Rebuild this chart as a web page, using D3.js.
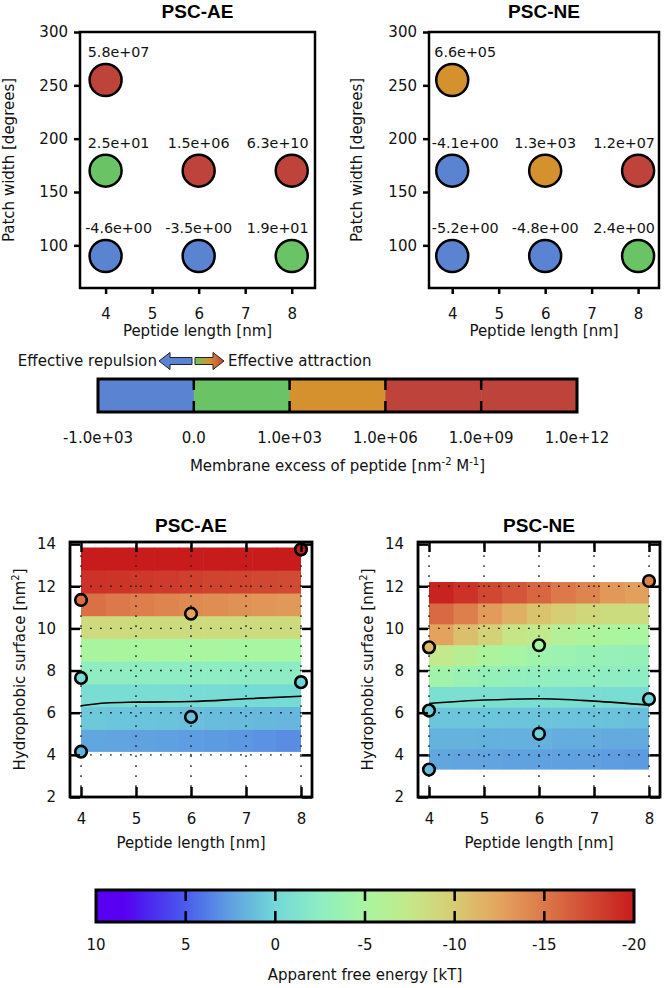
<!DOCTYPE html>
<html><head><meta charset="utf-8">
<script src="https://cdn.jsdelivr.net/npm/d3@7"></script>
<style>
html,body{margin:0;padding:0;background:#fff;}
svg{display:block;font-family:"DejaVu Sans",sans-serif;}
</style>
</head><body><div id="chart"></div>
<script>
// ---------- DATA ----------
const panelTitles = ["PSC-AE", "PSC-NE"];
// Top: membrane excess scatter
const aeLength = [4, 4, 6, 8, 4, 6, 8];
const aeWidth  = [255, 170, 170, 170, 90, 90, 90];
const aeExcess = [5.8e7, 2.5e1, 1.5e6, 6.3e10, -4.6, -3.5, 1.9e1];
const neLength = [4, 4, 6, 8, 4, 6, 8];
const neWidth  = [255, 170, 170, 170, 90, 90, 90];
const neExcess = [6.6e5, -4.1, 1.3e3, 1.2e7, -5.2, -4.8, 2.4];
const widthTicks = [100, 150, 200, 250, 300];
const lengthTicks = [4, 5, 6, 7, 8];
const excessBounds = [-1e3, 0, 1e3, 1e6, 1e9, 1e12];
const excessTickLabels = ["-1.0e+03", "0.0", "1.0e+03", "1.0e+06", "1.0e+09", "1.0e+12"];

// Bottom: apparent free energy maps (rows bottom->top, columns 4..8 nm)
const aeSurfaceRange = [4.14, 13.84];
const aeEnergyGrid = [
  [2.2, 2.3, 2.4, 2.5, 2.6, 2.7, 2.8, 3.0, 3.2],
  [0.7, 0.8, 0.9, 1.0, 1.1, 1.2, 1.3, 1.4, 1.5],
  [-0.6, -0.6, -0.6, -0.6, -0.5, -0.5, -0.4, -0.4, -0.3],
  [-2.6, -2.6, -2.6, -2.5, -2.5, -2.5, -2.4, -2.4, -2.4],
  [-5.1, -5.1, -5.0, -5.0, -5.0, -5.0, -4.9, -4.9, -4.9],
  [-8.7, -8.7, -8.6, -8.6, -8.6, -8.6, -8.6, -8.6, -8.6],
  [-15.4, -15.0, -14.6, -14.3, -14.0, -13.8, -13.6, -13.3, -13.1],
  [-18.8, -18.7, -18.5, -18.3, -18.1, -17.9, -17.8, -17.6, -17.5],
  [-20, -20, -20, -20, -20, -20, -20, -20, -20]
];
const aePointLength  = [4, 4, 4, 6, 6, 8, 8];
const aePointSurface = [11.35, 7.65, 4.15, 10.7, 5.8, 13.75, 7.45];
const aePointEnergy  = [-15.5, -0.5, 1.8, -12.5, 1.0, -20, 0.2];
const aeContourLength  = [4, 4.45, 5, 6, 7, 8];
const aeContourSurface = [6.33, 6.46, 6.5, 6.53, 6.66, 6.78];

const neSurfaceRange = [3.3, 12.2];
const neEnergyGrid = [
  [2.2, 2.3, 2.3, 2.4, 2.4, 2.5, 2.5, 2.6, 2.7],
  [1.7, 1.7, 1.8, 1.8, 1.8, 1.9, 1.9, 2.0, 2.0],
  [0.8, 0.8, 0.8, 0.9, 0.9, 0.9, 1.0, 1.0, 1.1],
  [-0.8, -0.8, -0.8, -0.7, -0.7, -0.7, -0.6, -0.6, -0.6],
  [-4.3, -3.6, -3.2, -3.0, -2.9, -2.8, -2.7, -2.6, -2.5],
  [-7.3, -6.4, -5.3, -4.8, -4.2, -3.8, -3.5, -3.3, -3.2],
  [-12.6, -10.8, -9.4, -7.8, -7.2, -6.0, -5.5, -5.2, -5.0],
  [-15.8, -14.6, -13.0, -11.7, -10.6, -9.7, -9.0, -8.6, -8.6],
  [-19.6, -18.8, -17.6, -16.9, -15.9, -15.0, -14.3, -13.2, -12.7]
];
const nePointLength  = [4, 4, 4, 6, 6, 8, 8];
const nePointSurface = [9.1, 6.1, 3.3, 9.2, 5.0, 12.25, 6.65];
const nePointEnergy  = [-11, 0.5, 1.3, -5, 0.2, -14.5, 0];
const neContourLength  = [4, 5, 6, 7, 8];
const neContourSurface = [6.44, 6.6, 6.66, 6.55, 6.36];

const surfaceTicks = [2, 4, 6, 8, 10, 12, 14];
const energyTicks = [10, 5, 0, -5, -10, -15, -20];

// ---------- STYLE ----------
const W = 664, H = 988;
const FONT = 15;
const excessColors = ["#5a84d2", "#6ac466", "#d4912d", "#be433a", "#be433a"];
const energyStops = [10, 8.3, 7.5, 5, 2.5, 0, -2.5, -5, -7.5, -10, -12.5, -15, -17.5, -20];
const energyStopColors = ["#5800f2", "#5800f2", "#4c1cf0", "#4a5cee", "#5fa0e0", "#72d8d8", "#8eedc2",
  "#a8f6a0", "#c4e889", "#d8cb72", "#e3a45e", "#dc7849", "#d14a33", "#c81c1c"];
const energyColor = d3.scaleLinear().domain(energyStops).range(energyStopColors).clamp(true);
const excessColor = d3.scaleThreshold().domain([0, 1e3, 1e6]).range(excessColors.slice(0, 4));
// horizontal shift of value labels relative to circle (by column)
const annShift = d3.scaleOrdinal().domain([4, 6, 8]).range([13, 0, -14]);

const svg = d3.select("#chart").append("svg").attr("width", W).attr("height", H)
  .attr("viewBox", `0 0 ${W} ${H}`);
svg.append("rect").attr("width", W).attr("height", H).attr("fill", "#fff");

function fmtExp(v) {
  const [m, e] = v.toExponential(1).split("e");
  return m + "e" + e[0] + e.slice(1).padStart(2, "0");
}
const intFmt = d3.format("d");

function styleAxis(g) {
  g.select(".domain").remove();
  g.selectAll(".tick line").attr("stroke", "#000").attr("stroke-width", 2.5);
  g.selectAll(".tick text").attr("fill", "#111").attr("font-size", FONT)
    .attr("font-family", "DejaVu Sans");
}

// ---------- TOP PANELS ----------
function drawExcess(cfg) {
  const x = d3.scaleLinear().domain(cfg.xd).range([cfg.x0, cfg.x1]);
  const y = d3.scaleLinear().domain([60, 300]).range([288, 32]);
  const g = svg.append("g");
  g.append("text").attr("x", (cfg.x0 + cfg.x1) / 2).attr("y", 18).attr("text-anchor", "middle")
    .attr("font-family", "Liberation Sans, Arial, sans-serif").attr("font-weight", "bold")
    .attr("font-size", 19).text(cfg.title);
  const gy = g.append("g").attr("transform", `translate(${cfg.x0},0)`)
    .call(d3.axisLeft(y).tickValues(widthTicks).tickFormat(intFmt).tickSize(6).tickPadding(6));
  styleAxis(gy);
  const gx = g.append("g").attr("transform", `translate(0,288)`)
    .call(d3.axisBottom(x).tickValues(lengthTicks).tickFormat(intFmt).tickSize(6).tickPadding(14));
  styleAxis(gx);
  const pts = cfg.lengths.map((l, i) => ({ l, w: cfg.widths[i], v: cfg.values[i] }));
  g.selectAll("circle.pt").data(pts).join("circle")
    .attr("cx", d => x(d.l)).attr("cy", d => y(d.w)).attr("r", 16)
    .attr("fill", d => excessColor(d.v)).attr("stroke", "#000").attr("stroke-width", 2.5);
  g.selectAll("text.ann").data(pts).join("text")
    .attr("x", d => x(d.l) + annShift(d.l)).attr("y", d => y(d.w) - 23).attr("text-anchor", "middle")
    .attr("font-size", 14.3).attr("fill", "#111").text(d => fmtExp(d.v));
  g.append("rect").attr("x", cfg.x0).attr("y", 32).attr("width", cfg.x1 - cfg.x0).attr("height", 256)
    .attr("fill", "none").attr("stroke", "#000").attr("stroke-width", 2.5);
  g.append("text").attr("x", (cfg.x0 + cfg.x1) / 2).attr("y", 336).attr("text-anchor", "middle")
    .attr("font-size", FONT).attr("fill", "#111").text("Peptide length [nm]");
  g.append("text").attr("transform", `translate(${cfg.ylx},160) rotate(-90)`).attr("text-anchor", "middle")
    .attr("font-size", FONT).attr("fill", "#111").text("Patch width [degrees]");
}
drawExcess({ title: panelTitles[0], x0: 80, x1: 315, xd: [3.45, 8.5], lengths: aeLength, widths: aeWidth, values: aeExcess, ylx: 14 });
drawExcess({ title: panelTitles[1], x0: 429, x1: 659, xd: [3.5, 8.45], lengths: neLength, widths: neWidth, values: neExcess, ylx: 362 });

// ---------- TOP COLORBAR ----------
(function () {
  const cb = svg.append("g");
  const n = excessBounds.length;
  const pos = d3.scaleLinear().domain(d3.range(n)).range(d3.range(n).map(i => 98 + i * (577 - 98) / (n - 1)));
  const top = 379, bot = 412;
  cb.selectAll("rect.seg").data(excessColors).join("rect")
    .attr("x", (d, i) => pos(i)).attr("y", top).attr("width", (d, i) => pos(i + 1) - pos(i) + 0.5)
    .attr("height", bot - top).attr("fill", d => d);
  const inner = d3.range(1, n - 1);
  cb.selectAll("line.tt").data(inner).join("line").attr("x1", i => pos(i)).attr("x2", i => pos(i))
    .attr("y1", top).attr("y2", top + 11).attr("stroke", "#000").attr("stroke-width", 2.5);
  cb.selectAll("line.tb").data(inner).join("line").attr("x1", i => pos(i)).attr("x2", i => pos(i))
    .attr("y1", bot - 11).attr("y2", bot).attr("stroke", "#000").attr("stroke-width", 2.5);
  cb.append("rect").attr("x", 98).attr("y", top).attr("width", 577 - 98).attr("height", bot - top)
    .attr("fill", "none").attr("stroke", "#000").attr("stroke-width", 3);
  cb.selectAll("text.lab").data(excessTickLabels).join("text")
    .attr("x", (d, i) => pos(i)).attr("y", 443).attr("text-anchor", "middle")
    .attr("font-size", FONT).attr("fill", "#111").text(d => d);
  const t = cb.append("text").attr("x", 337.5).attr("y", 471).attr("text-anchor", "middle")
    .attr("font-size", FONT).attr("fill", "#111");
  t.append("tspan").text("Membrane excess of peptide [nm");
  t.append("tspan").attr("dy", -6).attr("font-size", 10).text("-2");
  t.append("tspan").attr("dy", 6).text(" M");
  t.append("tspan").attr("dy", -6).attr("font-size", 10).text("-1");
  t.append("tspan").attr("dy", 6).text("]");

  // arrows
  const cy = 361;
  cb.append("text").attr("x", 157).attr("y", 366).attr("text-anchor", "end")
    .attr("font-size", FONT).attr("fill", "#111").text("Effective repulsion");
  const xl = 159, xr = 192;
  cb.append("path").attr("d", `M${xl},${cy} L${xl + 11},${cy - 8.5} L${xl + 11},${cy - 3.5} L${xr},${cy - 3.5} L${xr},${cy + 3.5} L${xl + 11},${cy + 3.5} L${xl + 11},${cy + 8.5} Z`)
    .attr("fill", excessColors[0]).attr("stroke", "#222").attr("stroke-width", 1);
  const defs = svg.append("defs");
  const lg = defs.append("linearGradient").attr("id", "attr").attr("x1", "0%").attr("x2", "100%");
  lg.append("stop").attr("offset", "0%").attr("stop-color", excessColors[1]);
  lg.append("stop").attr("offset", "50%").attr("stop-color", excessColors[2]);
  lg.append("stop").attr("offset", "100%").attr("stop-color", excessColors[3]);
  const al = 195, ar = 224;
  cb.append("path").attr("d", `M${ar},${cy} L${ar - 11},${cy - 8.5} L${ar - 11},${cy - 3.5} L${al},${cy - 3.5} L${al},${cy + 3.5} L${ar - 11},${cy + 3.5} L${ar - 11},${cy + 8.5} Z`)
    .attr("fill", "url(#attr)").attr("stroke", "#222").attr("stroke-width", 1);
  cb.append("text").attr("x", 228).attr("y", 366).attr("text-anchor", "start")
    .attr("font-size", FONT).attr("fill", "#111").text("Effective attraction");
})();

// ---------- BOTTOM PANELS ----------
function drawEnergy(cfg) {
  const x = d3.scaleLinear().domain([3.8, 8.2]).range([cfg.x0, cfg.x1]);
  const yTop = 542, yBot = 797;
  const y = d3.scaleLinear().domain([2, 14.1]).range([yBot, yTop]);
  const g = svg.append("g");
  g.append("text").attr("x", x(6)).attr("y", 532).attr("text-anchor", "middle")
    .attr("font-family", "Liberation Sans, Arial, sans-serif").attr("font-weight", "bold")
    .attr("font-size", 19).text(cfg.title);
  const nr = cfg.grid.length, nc = cfg.grid[0].length;
  const rowEdge = d3.range(nr + 1).map(i => cfg.range[0] + i * (cfg.range[1] - cfg.range[0]) / nr);
  const colEdge = d3.range(nc + 1).map(i => 4 + i * 4 / nc);
  const cells = [];
  cfg.grid.forEach((row, r) => row.forEach((v, c) => cells.push({ r, c, v })));
  g.selectAll("rect.cell").data(cells).join("rect")
    .attr("x", d => x(colEdge[d.c])).attr("y", d => y(rowEdge[d.r + 1]))
    .attr("width", d => x(colEdge[d.c + 1]) - x(colEdge[d.c]) + (d.c < nc - 1 ? 0.6 : 0))
    .attr("height", d => y(rowEdge[d.r]) - y(rowEdge[d.r + 1]) + (d.r > 0 ? 0.6 : 0))
    .attr("fill", d => energyColor(d.v));
  // dotted grid
  g.selectAll("line.gv").data(lengthTicks).join("line")
    .attr("x1", d => x(d)).attr("x2", d => x(d)).attr("y1", yBot).attr("y2", yTop)
    .attr("stroke", "#222").attr("stroke-width", 1.4).attr("stroke-dasharray", "1.8,8.2");
  g.selectAll("line.gh").data(surfaceTicks.slice(1, -1)).join("line")
    .attr("x1", cfg.x0).attr("x2", cfg.x1).attr("y1", d => y(d)).attr("y2", d => y(d))
    .attr("stroke", "#222").attr("stroke-width", 1.4).attr("stroke-dasharray", "1.8,8.2");
  // contour
  const line = d3.line().x(d => x(d[0])).y(d => y(d[1])).curve(d3.curveMonotoneX);
  g.append("path").datum(cfg.cl.map((l, i) => [l, cfg.cs[i]])).attr("d", line)
    .attr("fill", "none").attr("stroke", "#000").attr("stroke-width", 1.6);
  // points
  const pts = cfg.pl.map((l, i) => ({ l, s: cfg.ps[i], v: cfg.pe[i] }));
  g.selectAll("circle.p").data(pts).join("circle")
    .attr("cx", d => x(d.l)).attr("cy", d => y(d.s)).attr("r", 5.8)
    .attr("fill", d => energyColor(d.v)).attr("stroke", "#000").attr("stroke-width", 2.6);
  // axes (inward ticks on all sides)
  const gl = g.append("g").attr("transform", `translate(${cfg.x0},0)`)
    .call(d3.axisLeft(y).tickValues(surfaceTicks).tickFormat(intFmt).tickSize(-10).tickPadding(14));
  styleAxis(gl);
  const gr = g.append("g").attr("transform", `translate(${cfg.x1},0)`)
    .call(d3.axisRight(y).tickValues(surfaceTicks).tickSize(-10).tickFormat(""));
  styleAxis(gr);
  const gb = g.append("g").attr("transform", `translate(0,${yBot})`)
    .call(d3.axisBottom(x).tickValues(lengthTicks).tickFormat(intFmt).tickSize(-10).tickPadding(16));
  styleAxis(gb);
  const gt = g.append("g").attr("transform", `translate(0,${yTop})`)
    .call(d3.axisTop(x).tickValues(lengthTicks).tickSize(-10).tickFormat(""));
  styleAxis(gt);
  g.append("rect").attr("x", cfg.x0).attr("y", yTop).attr("width", cfg.x1 - cfg.x0).attr("height", yBot - yTop)
    .attr("fill", "none").attr("stroke", "#000").attr("stroke-width", 2.8);
  g.append("text").attr("x", (cfg.x0 + cfg.x1) / 2).attr("y", 848).attr("text-anchor", "middle")
    .attr("font-size", FONT).attr("fill", "#111").text("Peptide length [nm]");
  const t = g.append("text").attr("transform", `translate(${cfg.ylx},${(yTop + yBot) / 2}) rotate(-90)`)
    .attr("text-anchor", "middle").attr("font-size", FONT).attr("fill", "#111");
  t.append("tspan").text("Hydrophobic surface [nm");
  t.append("tspan").attr("dy", -6).attr("font-size", 10).text("2");
  t.append("tspan").attr("dy", 6).text("]");
}
drawEnergy({ title: panelTitles[0], x0: 70, x1: 312, range: aeSurfaceRange, grid: aeEnergyGrid,
  pl: aePointLength, ps: aePointSurface, pe: aePointEnergy, cl: aeContourLength, cs: aeContourSurface, ylx: 25 });
drawEnergy({ title: panelTitles[1], x0: 418, x1: 660, range: neSurfaceRange, grid: neEnergyGrid,
  pl: nePointLength, ps: nePointSurface, pe: nePointEnergy, cl: neContourLength, cs: neContourSurface, ylx: 373 });

// ---------- BOTTOM COLORBAR ----------
(function () {
  const x = d3.scaleLinear().domain([10, -20]).range([96, 634]);
  const top = 890, bot = 922;
  const defs = svg.append("defs");
  const lg = defs.append("linearGradient").attr("id", "energyGrad").attr("x1", "0%").attr("x2", "100%");
  d3.range(0, 61).forEach(i => {
    const v = 10 - i * 0.5;
    lg.append("stop").attr("offset", (i / 60 * 100) + "%").attr("stop-color", energyColor(v));
  });
  const cb = svg.append("g");
  cb.append("rect").attr("x", 96).attr("y", top).attr("width", 634 - 96).attr("height", bot - top)
    .attr("fill", "url(#energyGrad)");
  const inner = energyTicks.slice(1, -1);
  cb.selectAll("line.tt").data(inner).join("line").attr("x1", d => x(d)).attr("x2", d => x(d))
    .attr("y1", top).attr("y2", top + 11).attr("stroke", "#000").attr("stroke-width", 2.5);
  cb.selectAll("line.tb").data(inner).join("line").attr("x1", d => x(d)).attr("x2", d => x(d))
    .attr("y1", bot - 11).attr("y2", bot).attr("stroke", "#000").attr("stroke-width", 2.5);
  cb.append("rect").attr("x", 96).attr("y", top).attr("width", 634 - 96).attr("height", bot - top)
    .attr("fill", "none").attr("stroke", "#000").attr("stroke-width", 3);
  cb.selectAll("text.lab").data(energyTicks).join("text")
    .attr("x", d => x(d)).attr("y", 950).attr("text-anchor", "middle")
    .attr("font-size", FONT).attr("fill", "#111").text(d => String(d));
  cb.append("text").attr("x", 365).attr("y", 980).attr("text-anchor", "middle")
    .attr("font-size", FONT).attr("fill", "#111").text("Apparent free energy [kT]");
})();
</script>
</body></html>
